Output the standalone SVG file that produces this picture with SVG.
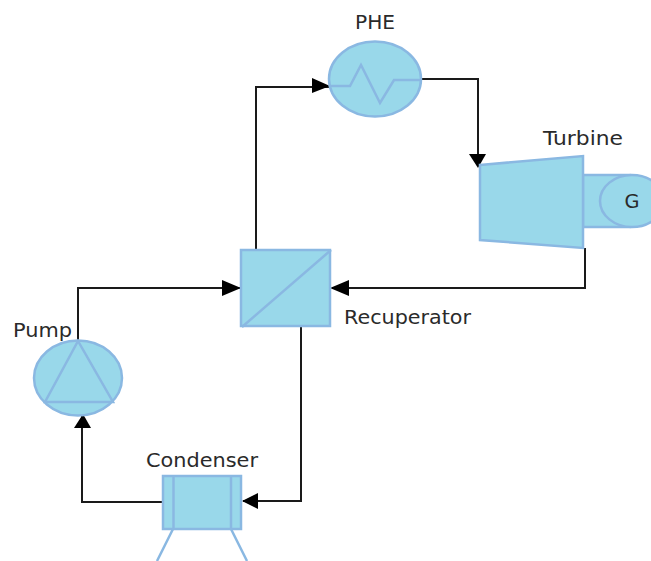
<svg xmlns="http://www.w3.org/2000/svg" width="651" height="561" viewBox="0 0 651 561">
<style>
.n{fill:#99d8ea;stroke:#8ab8e2;stroke-width:2.500}
.i{fill:none;stroke:#8ab8e2;stroke-width:2.500}
.c{fill:none;stroke:#1a1a1a;stroke-width:2}
.a{fill:#000;stroke:none}
text{font-family:"DejaVu Sans","Open Sans",sans-serif;font-size:19px;fill:#2a2a2a;text-anchor:middle}
</style>
<rect width="651" height="561" fill="#fff"/>
<g id="connectors">
<path class="c" d="M256 250V87H330"/><path class="a" d="M312 78L330 86L312 93Z"/>
<path class="c" d="M422 79H478V166"/><path class="a" d="M469 154H486L478 168Z"/>
<path class="c" d="M585 248V288H332"/><path class="a" d="M349 280V296L330 288Z"/>
<path class="c" d="M78 341V288H240"/><path class="a" d="M222 280V296L241 288Z"/>
<path class="c" d="M301 326V501H243"/><path class="a" d="M258 493V509L242 501Z"/>
<path class="c" d="M163 502H82V416"/><path class="a" d="M74 428H91L83 414Z"/>
</g>
<g id="phe">
<ellipse class="n" cx="375" cy="79" rx="46" ry="37.500"/>
<path class="i" d="M330 86H350L361 65L380 103L394 80H421"/>
<text x="375" y="29" textLength="40" lengthAdjust="spacingAndGlyphs">PHE</text>
</g>
<g id="generator">
<path class="n" d="M583 175H630V227H583Z"/>
<ellipse class="n" cx="632" cy="201" rx="32" ry="26"/>
<text x="632" y="208" textLength="15" lengthAdjust="spacingAndGlyphs">G</text>
</g>
<g id="turbine">
<path class="n" d="M480 165L583 156V248L480 240Z"/>
<text x="583" y="145" textLength="80" lengthAdjust="spacingAndGlyphs">Turbine</text>
</g>
<g id="recuperator">
<rect class="n" x="241" y="250" width="89" height="76"/>
<path class="i" d="M242 327L331 250"/>
<text x="407.500" y="324" textLength="127" lengthAdjust="spacingAndGlyphs">Recuperator</text>
</g>
<g id="pump">
<ellipse class="n" cx="78" cy="378" rx="44" ry="37.500"/>
<path class="i" d="M45 402L78 341L113 402Z"/>
<text x="42.500" y="337" textLength="59" lengthAdjust="spacingAndGlyphs">Pump</text>
</g>
<g id="condenser">
<rect class="n" x="163" y="476" width="78" height="53"/>
<path class="i" d="M173.500 476V529M231 476V529M173 529L157 561M231 529L247 561"/>
<text x="202" y="467" textLength="112" lengthAdjust="spacingAndGlyphs">Condenser</text>
</g>
</svg>
